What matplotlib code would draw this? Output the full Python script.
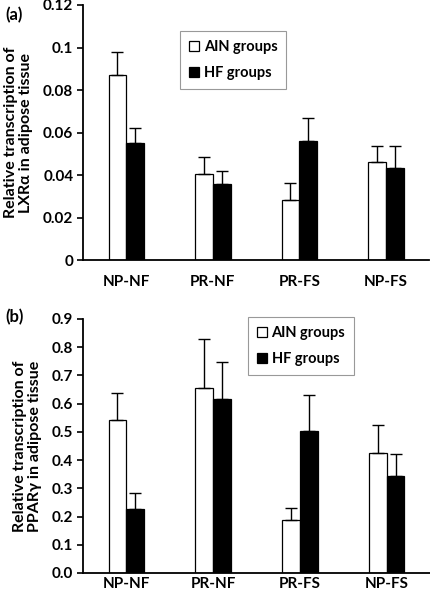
import matplotlib
matplotlib.use("Agg")
from matplotlib import pyplot as plt
from matplotlib.ticker import FixedLocator
import numpy as np

groups = ["NP-NF", "PR-NF", "PR-FS", "NP-FS"]
series = ["AIN groups", "HF groups"]

lxr_ain = [0.0871, 0.0403, 0.0281, 0.0460]
lxr_ain_err = [0.0109, 0.0080, 0.0080, 0.0075]
lxr_hf = [0.0552, 0.0359, 0.0558, 0.0431]
lxr_hf_err = [0.0069, 0.0058, 0.0109, 0.0104]

ppar_ain = [0.541, 0.655, 0.188, 0.426]
ppar_ain_err = [0.096, 0.173, 0.043, 0.099]
ppar_hf = [0.228, 0.616, 0.504, 0.344]
ppar_hf_err = [0.055, 0.133, 0.128, 0.079]

lxr_ticks = [0, 0.02, 0.04, 0.06, 0.08, 0.1, 0.12]
lxr_ticklabels = ["0", "0.02", "0.04", "0.06", "0.08", "0.1", "0.12"]
ppar_ticks = [0.0, 0.1, 0.2, 0.3, 0.4, 0.5, 0.6, 0.7, 0.8, 0.9]
ppar_ticklabels = ["0.0", "0.1", "0.2", "0.3", "0.4", "0.5", "0.6", "0.7", "0.8", "0.9"]

plt.rcParams["font.family"] = ["Lato", "DejaVu Sans"]
plt.rcParams["font.weight"] = "bold"

fig = plt.figure(figsize=(4.3, 5.95), dpi=100)
ax_a = fig.add_axes([0.193, 0.563, 0.805, 0.4286])
ax_b = fig.add_axes([0.193, 0.037, 0.807, 0.4269])


def draw_panel(ax, ain, ain_err, hf, hf_err, ticks, ticklabels, ylabel, leg_pos, xpad):
    x = np.arange(len(groups))
    w = 0.205
    ekw = dict(elinewidth=1.0, capthick=1.0, ecolor="black")
    ax.bar(x - w / 2, ain, w, color="white", edgecolor="black", linewidth=0.9,
           yerr=[np.zeros(len(ain)), ain_err], capsize=4, error_kw=ekw, label=series[0])
    ax.bar(x + w / 2, hf, w, color="black", edgecolor="black", linewidth=0.9,
           yerr=[np.zeros(len(hf)), hf_err], capsize=4, error_kw=ekw, label=series[1])
    ax.set_xlim(-0.5, len(groups) - 0.5)
    ax.set_ylim(ticks[0], ticks[-1])
    ax.yaxis.set_major_locator(FixedLocator(ticks))
    ax.set_yticklabels(ticklabels)
    ax.set_xticks(x)
    ax.set_xticklabels(groups)
    ax.tick_params(axis="x", length=0, pad=xpad, labelsize=11)
    ax.tick_params(axis="y", length=4, width=1.2, labelsize=11, pad=3)
    for s in ["top", "right"]:
        ax.spines[s].set_visible(False)
    for s in ["left", "bottom"]:
        ax.spines[s].set_linewidth(1.3)
    for lab in ax.get_xticklabels() + ax.get_yticklabels():
        lab.set_fontweight("bold")
    ax.set_ylabel(ylabel, fontsize=11.5, fontweight="bold", labelpad=7, linespacing=1.1)
    leg = ax.legend(loc="upper left", bbox_to_anchor=leg_pos, frameon=True, fancybox=False,
                    edgecolor="#808080", handlelength=0.7, handleheight=0.7,
                    handletextpad=0.3, borderpad=0.6, labelspacing=0.8,
                    prop={"weight": "bold", "size": 10.5})
    leg.get_frame().set_linewidth(0.8)


draw_panel(ax_a, lxr_ain, lxr_ain_err, lxr_hf, lxr_hf_err, lxr_ticks, lxr_ticklabels,
           "Relative transcription of\nLXR\u03b1 in adipose tissue", (0.26, 0.925), 11)
draw_panel(ax_b, ppar_ain, ppar_ain_err, ppar_hf, ppar_hf_err, ppar_ticks, ppar_ticklabels,
           "Relative transcription of\nPPAR\u03b3 in adipose tissue", (0.455, 1.035), 3)

fig.text(0.012, 0.975, "(a)", fontsize=12, fontweight="bold", ha="left", va="center")
fig.text(0.012, 0.467, "(b)", fontsize=12, fontweight="bold", ha="left", va="center")

fig.savefig("out.png", dpi=100)
